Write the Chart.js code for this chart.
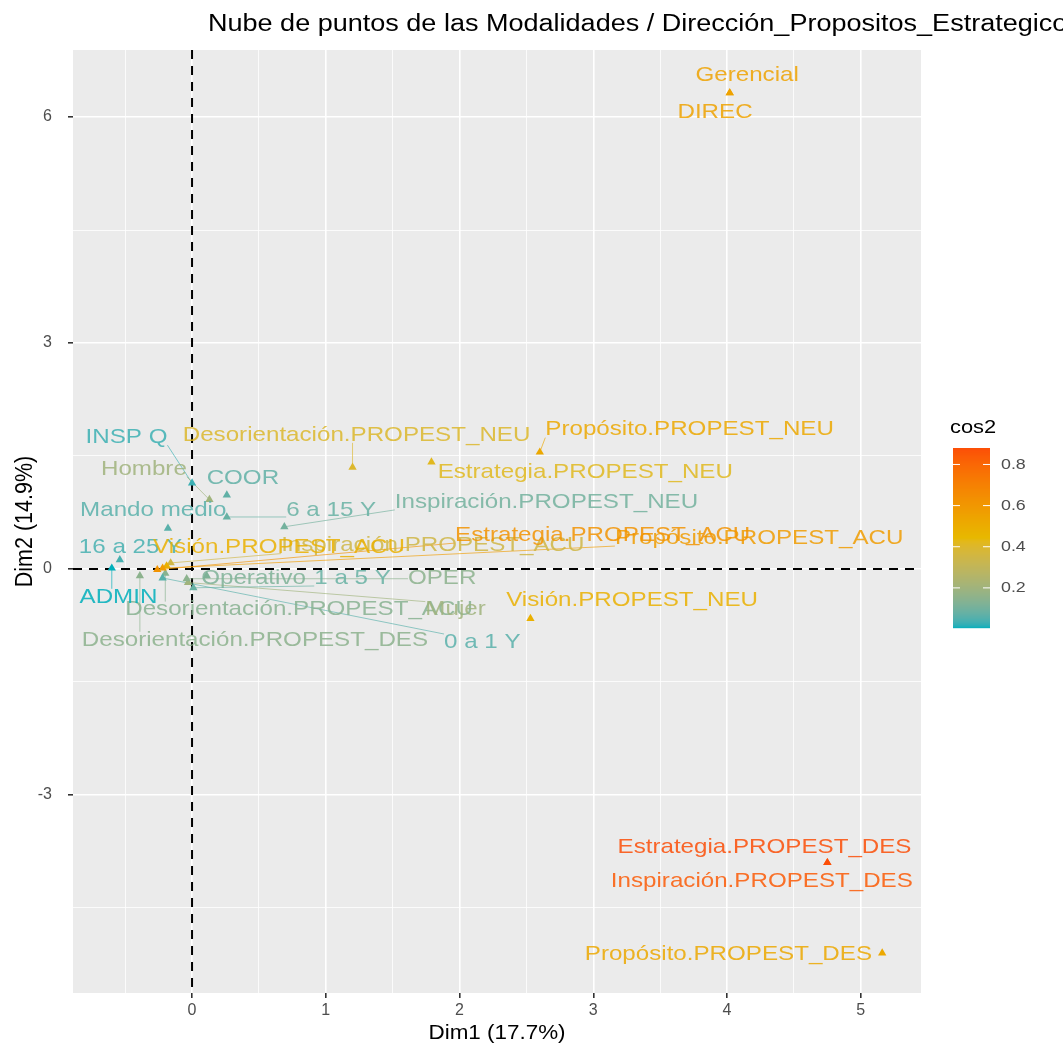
<!DOCTYPE html>
<html>
<head>
<meta charset="utf-8">
<script src="https://cdn.jsdelivr.net/npm/chart.js@4.4.1/dist/chart.umd.min.js"></script>
<style>
html, body { margin:0; padding:0; background:#fff; }
</style>
</head>
<body>
<canvas id="chart" width="1063" height="1052"></canvas>
<script>

const labels = [
  "Desorientación.PROPEST_ACU", "Mujer", "INSP Q", "COOR", "Hombre", "6 a 15 Y",
  "Inspiración.PROPEST_NEU", "Mando medio", "16 a 25 Y", "ADMIN",
  "Desorientación.PROPEST_DES", "0 a 1 Y", "OPER", "1 a 5 Y", "Operativo",
  "Inspiración.PROPEST_ACU", "Visión.PROPEST_ACU", "Propósito.PROPEST_ACU", "Estrategia.PROPEST_ACU",
  "Desorientación.PROPEST_NEU", "Estrategia.PROPEST_NEU", "Propósito.PROPEST_NEU", "Visión.PROPEST_NEU",
  "Gerencial", "DIREC", "Inspiración.PROPEST_DES", "Estrategia.PROPEST_DES", "Propósito.PROPEST_DES"
]
const dim1 = [
  -0.20, -0.03, 0.00, 0.26, 0.13, 0.26,
  0.69, -0.18, -0.54, -0.60,
  -0.39, -0.22, -0.04, 0.01, 0.11,
  -0.16, -0.19, -0.22, -0.26,
  1.20, 1.79, 2.60, 2.53,
  4.02, 4.02, 4.75, 4.75, 5.16
]
const dim2 = [
  -0.06, -0.18, 1.14, 0.98, 0.92, 0.69,
  0.56, 0.54, 0.12, 0.01,
  -0.09, -0.12, -0.13, -0.25, -0.09,
  0.08, 0.04, 0.01, -0.01,
  1.35, 1.42, 1.55, -0.66,
  6.32, 6.32, -3.90, -3.90, -5.10
]
const cos2 = [
  0.14, 0.20, 0.03, 0.07, 0.20, 0.08,
  0.10, 0.06, 0.04, 0.005,
  0.15, 0.06, 0.15, 0.08, 0.12,
  0.35, 0.48, 0.58, 0.62,
  0.40, 0.42, 0.52, 0.48,
  0.55, 0.55, 0.84, 0.88, 0.52
]

const xTicks = [0, 1, 2, 3, 4, 5]
const xMinor = [-0.5, 0.5, 1.5, 2.5, 3.5, 4.5]
const yTicks = [-3, 0, 3, 6]
const yMinor = [-4.5, -1.5, 1.5, 4.5]
const legendTicks = [0.2, 0.4, 0.6, 0.8]

// where the repelled labels ended up (data units, label centre)
const labelX = [
  0.80, 1.97, -0.49, 0.38, -0.36, 1.04,
  2.65, -0.29, -0.46, -0.55,
  0.47, 2.17, 1.87, 1.20, 0.46,
  1.80, 0.65, 4.24, 3.07,
  1.23, 2.94, 3.72, 3.29,
  4.15, 3.91, 4.26, 4.28, 4.01
]
const labelY = [
  -0.54, -0.54, 1.75, 1.21, 1.33, 0.78,
  0.89, 0.78, 0.29, -0.37,
  -0.94, -0.97, -0.12, -0.12, -0.12,
  0.31, 0.29, 0.41, 0.45,
  1.78, 1.29, 1.85, -0.41,
  6.56, 6.07, -4.14, -3.69, -5.12
]

// colour scale teal -> yellow -> red, mixed in Lab like ggplot
const colStops = [[0, 175, 187], [231, 184, 0], [252, 78, 7]]
const cMin = Math.min(...cos2)
const cMax = Math.max(...cos2)

function toLin(c){ c /= 255; return c <= 0.04045 ? c/12.92 : Math.pow((c+0.055)/1.055, 2.4) }
function fromLin(c){
  const v = c <= 0.0031308 ? 12.92*c : 1.055*Math.pow(c, 1/2.4) - 0.055
  return Math.round(Math.max(0, Math.min(1, v))*255)
}
function rgb2lab(c){
  const r = toLin(c[0]), g = toLin(c[1]), b = toLin(c[2])
  const X = (0.4124*r + 0.3576*g + 0.1805*b)/0.95047
  const Y = 0.2126*r + 0.7152*g + 0.0722*b
  const Z = (0.0193*r + 0.1192*g + 0.9505*b)/1.08883
  const f = t => t > 0.008856 ? Math.cbrt(t) : 7.787*t + 16/116
  const fx = f(X), fy = f(Y), fz = f(Z)
  return [116*fy - 16, 500*(fx - fy), 200*(fy - fz)]
}
function lab2rgb(l){
  const fy = (l[0] + 16)/116, fx = fy + l[1]/500, fz = fy - l[2]/200
  const fi = t => t > 0.206893 ? t*t*t : (t - 16/116)/7.787
  const X = fi(fx)*0.95047, Y = fi(fy), Z = fi(fz)*1.08883
  const r = 3.2406*X - 1.5372*Y - 0.4986*Z
  const g = -0.9689*X + 1.8758*Y + 0.0415*Z
  const b = 0.0557*X - 0.2040*Y + 1.0570*Z
  return [fromLin(r), fromLin(g), fromLin(b)]
}
const labStops = colStops.map(rgb2lab)

function colorFor(v, alpha){
  let t = (v - cMin)/(cMax - cMin)
  t = Math.max(0, Math.min(1, t))
  const seg = t < 0.5 ? 0 : 1
  const f = t < 0.5 ? t*2 : (t - 0.5)*2
  const a = labStops[seg], b = labStops[seg + 1]
  const c = lab2rgb([a[0] + (b[0]-a[0])*f, a[1] + (b[1]-a[1])*f, a[2] + (b[2]-a[2])*f])
  return "rgba(" + c[0] + "," + c[1] + "," + c[2] + "," + (alpha == null ? 1 : alpha) + ")"
}

// the picture is a bit wider than tall, text gets the same stretch
const SX = 1.15
const FONT = '"Liberation Sans", Arial, sans-serif'

function stretchedText(ctx, text, x, y, align){
  ctx.save()
  ctx.translate(x, y)
  ctx.scale(SX, 1)
  ctx.textAlign = align
  ctx.fillText(text, 0, 0)
  ctx.restore()
}

const panelPlugin = {
  id: "panel",
  beforeDraw(chart){
    const {ctx, chartArea: a} = chart
    ctx.save()
    ctx.fillStyle = "#EBEBEB"
    ctx.fillRect(a.left, a.top, a.right - a.left, a.bottom - a.top)
    ctx.restore()
  },
  beforeDatasetsDraw(chart){
    const {ctx, chartArea: a} = chart
    const xs = chart.scales.x, ys = chart.scales.y
    ctx.save()
    // dashed zero lines
    ctx.strokeStyle = "#000"
    ctx.lineWidth = 2
    ctx.setLineDash([9, 7])
    const x0 = xs.getPixelForValue(0), y0 = ys.getPixelForValue(0)
    ctx.beginPath(); ctx.moveTo(x0, a.top); ctx.lineTo(x0, a.bottom); ctx.stroke()
    ctx.beginPath(); ctx.moveTo(a.left, y0); ctx.lineTo(a.right, y0); ctx.stroke()
    ctx.setLineDash([])

    // repel segments from point to label box
    ctx.font = "21px " + FONT
    ctx.lineWidth = 1
    labels.forEach(function(l, i){
      const px = xs.getPixelForValue(dim1[i]), py = ys.getPixelForValue(dim2[i])
      const lx = xs.getPixelForValue(labelX[i]), ly = ys.getPixelForValue(labelY[i])
      const w = ctx.measureText(l).width*SX, h = 16
      const bx = Math.max(lx - w/2, Math.min(lx + w/2, px))
      const by = Math.max(ly - h/2, Math.min(ly + h/2, py))
      const d = Math.hypot(bx - px, by - py)
      if(d > 12){
        ctx.strokeStyle = colorFor(cos2[i], 0.65)
        ctx.beginPath(); ctx.moveTo(px, py); ctx.lineTo(bx, by); ctx.stroke()
      }
    })
    ctx.restore()
  },
  afterDraw(chart){
    const {ctx, chartArea: a} = chart
    const xs = chart.scales.x, ys = chart.scales.y
    ctx.save()
    ctx.textBaseline = "middle"

    // point labels
    ctx.font = "21px " + FONT
    labels.forEach(function(l, i){
      ctx.fillStyle = colorFor(cos2[i], 0.85)
      stretchedText(ctx, l, xs.getPixelForValue(labelX[i]), ys.getPixelForValue(labelY[i]), "center")
    })

    // title
    ctx.fillStyle = "#000"
    ctx.font = "23.5px " + FONT
    stretchedText(ctx, "Nube de puntos de las Modalidades / Dirección_Propositos_Estrategicos", 208, 25, "left")

    // axis titles
    ctx.font = "19.5px " + FONT
    stretchedText(ctx, "Dim1 (17.7%)", (a.left + a.right)/2, 1034, "center")
    ctx.save()
    ctx.font = "21.5px " + FONT
    ctx.translate(25, (a.top + a.bottom)/2)
    ctx.scale(SX, 1)
    ctx.rotate(-Math.PI/2)
    ctx.textAlign = "center"
    ctx.fillText("Dim2 (14.9%)", 0, 0)
    ctx.restore()

    // colour bar legend
    const barL = 953, barR = 990, barT = 448, barB = 628
    for(let y = barT; y < barB; y++){
      const v = cMax - (y - barT + 0.5)/(barB - barT)*(cMax - cMin)
      ctx.fillStyle = colorFor(v)
      ctx.fillRect(barL, y, barR - barL, 1.2)
    }
    ctx.fillStyle = "#000"
    ctx.font = "19px " + FONT
    stretchedText(ctx, "cos2", 950, 428, "left")
    ctx.font = "15.5px " + FONT
    legendTicks.forEach(function(v){
      const y = barB - (v - cMin)/(cMax - cMin)*(barB - barT)
      ctx.strokeStyle = "#fff"
      ctx.lineWidth = 1
      ctx.beginPath(); ctx.moveTo(barL, y); ctx.lineTo(barL + 7, y); ctx.stroke()
      ctx.beginPath(); ctx.moveTo(barR - 7, y); ctx.lineTo(barR, y); ctx.stroke()
      ctx.fillStyle = "#4D4D4D"
      stretchedText(ctx, v.toFixed(1), 1001, y, "left")
    })
    ctx.restore()
  }
}

function gridOpts(major){
  return {
    color: "#fff",
    lineWidth: c => major.includes(c.tick.value) ? 1.6 : 0.8,
    tickColor: c => major.includes(c.tick.value) ? "#333" : "rgba(0,0,0,0)",
    tickLength: 5,
    drawTicks: true
  }
}

new Chart(document.getElementById("chart"), {
  type: "scatter",
  data: {
    datasets: [{
      data: labels.map((l, i) => ({x: dim1[i], y: dim2[i]})),
      pointStyle: "triangle",
      pointRadius: 4.8,
      pointHoverRadius: 4.8,
      backgroundColor: c => colorFor(cos2[c.dataIndex]),
      borderWidth: 0
    }]
  },
  options: {
    responsive: false,
    animation: false,
    devicePixelRatio: 1,
    layout: { padding: { left: 0, top: 50, right: 142, bottom: 0 } },
    plugins: { legend: { display: false }, tooltip: { enabled: false }, title: { display: false } },
    events: [],
    scales: {
      x: {
        type: "linear",
        min: -0.89,
        max: 5.45,
        afterBuildTicks: s => { s.ticks = xMinor.concat(xTicks).sort((p, q) => p - q).map(v => ({value: v})) },
        afterFit: s => { s.height = 59 },
        border: { display: false },
        grid: gridOpts(xTicks),
        ticks: {
          autoSkip: false, maxRotation: 0, padding: 3,
          color: "#4D4D4D", font: { size: 16, family: FONT },
          callback: v => xTicks.includes(v) ? String(v) : ""
        }
      },
      y: {
        type: "linear",
        min: -5.63,
        max: 6.89,
        afterBuildTicks: s => { s.ticks = yMinor.concat(yTicks).sort((p, q) => p - q).map(v => ({value: v})) },
        afterFit: s => { s.width = 73 },
        border: { display: false },
        grid: gridOpts(yTicks),
        ticks: {
          autoSkip: false, padding: 16,
          color: "#4D4D4D", font: { size: 16, family: FONT },
          callback: v => yTicks.includes(v) ? String(v) : ""
        }
      }
    }
  },
  plugins: [panelPlugin]
})
</script>
</body>
</html>
